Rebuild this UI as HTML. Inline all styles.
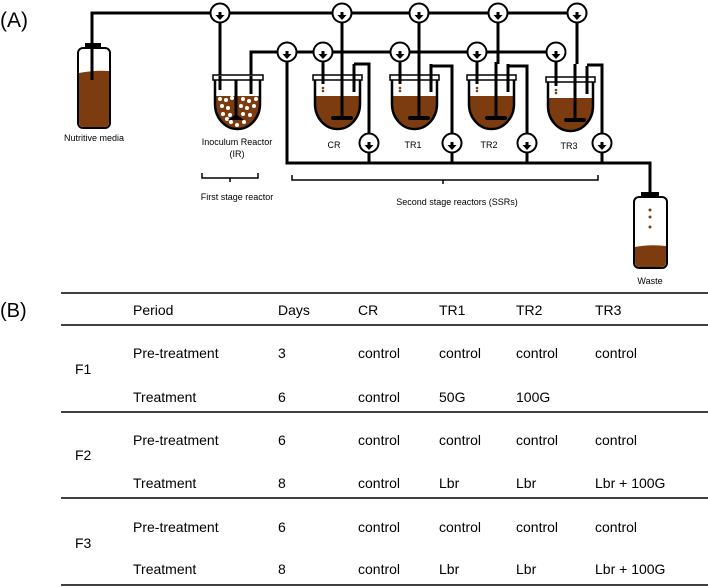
<!DOCTYPE html>
<html><head><style>
html,body{margin:0;padding:0;background:#fff;}
svg{display:block;font-family:"Liberation Sans",Arial,sans-serif;}
</style></head><body>
<svg width="708" height="587" viewBox="0 0 708 587" xmlns="http://www.w3.org/2000/svg">
<defs>
<g id="valve">
<circle cx="0" cy="0" r="9.5" fill="#fff" stroke="#000" stroke-width="2"/>
<rect x="-1.5" y="-1" width="3" height="4" fill="#000"/>
<polygon points="-4.5,2 4.5,2 0,7" fill="#000"/>
</g>
<g id="reactor">
<path d="M3,96 H46 V104 A21.5,24 0 0 1 3,104 Z" fill="#7d3c10"/>
<path d="M2,80 V104 A22.5,25 0 0 0 47,104 V80" fill="none" stroke="#000" stroke-width="2.5"/>
<rect x="0" y="75" width="49" height="5" fill="#fff" stroke="#000" stroke-width="1.5"/>
<line x1="29" y1="62" x2="29" y2="118" stroke="#000" stroke-width="3"/>
<rect x="18" y="116" width="22" height="4" rx="2" fill="#000"/>
<line x1="10" y1="52" x2="10" y2="84" stroke="#000" stroke-width="3"/>
<circle cx="10" cy="88" r="1.3" fill="#7d3c10"/><circle cx="10" cy="91" r="1.3" fill="#7d3c10"/>
<line x1="41" y1="64" x2="41" y2="92" stroke="#000" stroke-width="3"/>
</g>
</defs>
<text x="0" y="27" font-size="21">(A)</text>
<g stroke="#000" stroke-width="3" fill="none">
<polyline points="92,64 92,13 577,13"/>
<line x1="220" y1="13" x2="220" y2="76"/>
<polyline points="251,92 251,52 555,52"/>
<polyline points="287,52 287,163 650,163 650,195"/>
<line x1="342" y1="13" x2="342" y2="64"/>
<line x1="419" y1="13" x2="419" y2="64"/>
<line x1="498" y1="13" x2="498" y2="64"/>
<line x1="577" y1="13" x2="577" y2="64"/>
<polyline points="354,64 369,64 369,163"/>
<polyline points="432,66 452,66 452,163"/>
<polyline points="508,66 527,66 527,163"/>
<polyline points="587,65 602,65 602,163"/>
</g>
<rect x="78" y="48" width="32" height="80" rx="5" fill="#fff" stroke="#000" stroke-width="2"/>
<path d="M79,73 Q95,70 109,71 V122 Q109,127 104,127 H84 Q79,127 79,122 Z" fill="#7d3c10"/>
<rect x="85" y="43" width="16" height="5" fill="#000"/>
<line x1="92" y1="48" x2="92" y2="80" stroke="#000" stroke-width="3"/>
<text x="94" y="141" font-size="9" text-anchor="middle">Nutritive media</text>
<path d="M216,96 H259 V104 A21.5,24 0 0 1 216,104 Z" fill="#7d3c10"/>
<g fill="#fff">
<circle cx="220" cy="99" r="2"/><circle cx="226" cy="100" r="2"/><circle cx="232" cy="98" r="2"/><circle cx="243" cy="99" r="2"/><circle cx="249" cy="101" r="2"/><circle cx="256" cy="99" r="2"/>
<circle cx="222" cy="106" r="2"/><circle cx="228" cy="108" r="2"/><circle cx="241" cy="106" r="2"/><circle cx="247" cy="108" r="2"/><circle cx="254" cy="106" r="2"/>
<circle cx="223" cy="114" r="2"/><circle cx="230" cy="115" r="2"/><circle cx="243" cy="114" r="2"/><circle cx="250" cy="115" r="2"/>
<circle cx="231" cy="122" r="2"/><circle cx="237" cy="125" r="2"/><circle cx="244" cy="122" r="2"/><circle cx="227" cy="119" r="2"/>
</g>
<path d="M215,80 V104 A22.5,25 0 0 0 260,104 V80" fill="none" stroke="#000" stroke-width="2.5"/>
<rect x="213" y="75" width="50" height="5" fill="#fff" stroke="#000" stroke-width="1.5"/>
<line x1="236" y1="80" x2="236" y2="118" stroke="#000" stroke-width="3"/>
<path d="M228,120 L236,114 L244,120 Z" fill="#000"/>
<line x1="220" y1="76" x2="220" y2="90" stroke="#000" stroke-width="3"/>
<line x1="251" y1="76" x2="251" y2="94" stroke="#000" stroke-width="3"/>
<text x="237" y="145" font-size="9" text-anchor="middle">Inoculum Reactor</text>
<text x="237" y="157" font-size="9" text-anchor="middle">(IR)</text>
<use href="#reactor" x="313" y="0"/>
<use href="#reactor" x="390" y="0"/>
<use href="#reactor" x="467" y="0"/>
<use href="#reactor" x="546" y="2"/>
<g font-size="9" text-anchor="middle">
<text x="334" y="148">CR</text><text x="413" y="148">TR1</text><text x="489" y="148">TR2</text><text x="569" y="149">TR3</text>
</g>
<use href="#valve" x="220" y="13"/><use href="#valve" x="342" y="13"/><use href="#valve" x="419" y="13"/><use href="#valve" x="498" y="13"/><use href="#valve" x="577" y="13"/>
<use href="#valve" x="287" y="52"/><use href="#valve" x="323" y="52"/><use href="#valve" x="400" y="52"/><use href="#valve" x="477" y="52"/><use href="#valve" x="556" y="52"/>
<use href="#valve" x="369" y="143"/><use href="#valve" x="452" y="143"/><use href="#valve" x="527" y="143"/><use href="#valve" x="602" y="143"/>
<g stroke="#000" stroke-width="1.5" fill="none">
<polyline points="202,173 202,178 258,178 258,173"/><line x1="230" y1="178" x2="230" y2="182"/>
<polyline points="292,175 292,180 598,180 598,175"/><line x1="443" y1="180" x2="443" y2="184"/>
</g>
<text x="237" y="200" font-size="9" text-anchor="middle">First stage reactor</text>
<text x="457" y="205" font-size="9" text-anchor="middle">Second stage reactors (SSRs)</text>
<rect x="634" y="197" width="33" height="71" rx="5" fill="#fff" stroke="#000" stroke-width="2"/>
<path d="M635,247 Q650,244 666,246 V262 Q666,267 661,267 H640 Q635,267 635,262 Z" fill="#7d3c10"/>
<rect x="641" y="192" width="18" height="5" fill="#000"/>
<g fill="#7d3c10"><circle cx="650" cy="210" r="1.5"/><circle cx="650" cy="217" r="1.5"/><circle cx="650" cy="227" r="1.5"/></g>
<text x="650" y="284" font-size="9" text-anchor="middle">Waste</text>
<text x="0" y="317" font-size="20">(B)</text>
<g stroke="#000" stroke-width="1.5">
<line x1="61" y1="293" x2="708" y2="293"/>
<line x1="61" y1="325" x2="708" y2="325"/>
<line x1="61" y1="412" x2="708" y2="412"/>
<line x1="61" y1="498" x2="708" y2="498"/>
<line x1="61" y1="585" x2="708" y2="585"/>
</g>
<g font-size="14">
<text x="133" y="315">Period</text><text x="278" y="315">Days</text><text x="358" y="315">CR</text><text x="439" y="315">TR1</text><text x="516" y="315">TR2</text><text x="595" y="315">TR3</text>
<text x="75" y="374">F1</text><text x="75" y="460">F2</text><text x="75" y="548">F3</text>
<text x="133" y="358">Pre-treatment</text><text x="278" y="358">3</text><text x="358" y="358">control</text><text x="439" y="358">control</text><text x="516" y="358">control</text><text x="595" y="358">control</text>
<text x="133" y="402">Treatment</text><text x="278" y="402">6</text><text x="358" y="402">control</text><text x="439" y="402">50G</text><text x="516" y="402">100G</text>
<text x="133" y="445">Pre-treatment</text><text x="278" y="445">6</text><text x="358" y="445">control</text><text x="439" y="445">control</text><text x="516" y="445">control</text><text x="595" y="445">control</text>
<text x="133" y="488">Treatment</text><text x="278" y="488">8</text><text x="358" y="488">control</text><text x="439" y="488">Lbr</text><text x="516" y="488">Lbr</text><text x="595" y="488">Lbr + 100G</text>
<text x="133" y="532">Pre-treatment</text><text x="278" y="532">6</text><text x="358" y="532">control</text><text x="439" y="532">control</text><text x="516" y="532">control</text><text x="595" y="532">control</text>
<text x="133" y="574">Treatment</text><text x="278" y="574">8</text><text x="358" y="574">control</text><text x="439" y="574">Lbr</text><text x="516" y="574">Lbr</text><text x="595" y="574">Lbr + 100G</text>
</g>
</svg>
</body></html>
